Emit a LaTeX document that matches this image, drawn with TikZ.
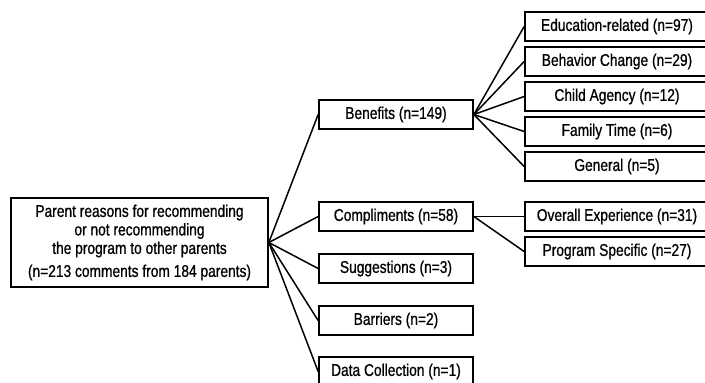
\documentclass[tikz,border=0pt]{standalone}
\usepackage{fontspec}
\setmainfont{Liberation Sans}[FakeStretch=0.81, FakeBold=0.8]
\usetikzlibrary{positioning}
\tikzset{
root box/.style = { rectangle, draw = black, fill = white, line width = 1.7pt, minimum width = 257pt, minimum height = 89pt, inner sep = 0pt, align = center },
theme box/.style = { rectangle, draw = black, fill = white, line width = 1.7pt, minimum width = 154pt, minimum height = 29pt, inner sep = 0pt },
subtheme box/.style = { rectangle, draw = black, fill = white, line width = 1.7pt, minimum width = 184pt, minimum height = 29pt, inner sep = 0pt },
link/.style = { draw = black, line width = 1.5pt },
}

\begin{document}
\begin{tikzpicture}[x = 1pt, y = -1pt, font = \fontsize{17}{18.5}\selectfont]
      \path[use as bounding box, clip] (0, 0) rectangle (705, 383);
      % root
      \node[root box] (root) at (139.5, 242.5) {Parent reasons for recommending\\or not recommending\\the program to other parents\\[4.5pt](n=213 comments from 184 parents)};
      % themes
      \node[theme box] (benefits) at (396, 114.5) {Benefits (n=149)};
      \node[theme box] (compliments) at (396, 216.5) {Compliments (n=58)};
      \node[theme box] (suggestions) at (396, 268.5) {Suggestions (n=3)};
      \node[theme box] (barriers) at (396, 320.5) {Barriers (n=2)};
      \node[theme box] (datacoll) at (396, 371.5) {Data Collection (n=1)};
      % sub-themes
      \node[subtheme box] (education) at (617, 26.5) {Education-related (n=97)};
      \node[subtheme box] (behavior) at (617, 61.5) {Behavior Change (n=29)};
      \node[subtheme box] (agency) at (617, 96.5) {Child Agency (n=12)};
      \node[subtheme box] (family) at (617, 131.5) {Family Time (n=6)};
      \node[subtheme box] (general) at (617, 166.5) {General (n=5)};
      \node[subtheme box] (overall) at (617, 216.5) {Overall Experience (n=31)};
      \node[subtheme box] (specific) at (617, 251.5) {Program Specific (n=27)};
      % connectors
      \draw[link] (root.east) -- (benefits.west);
      \draw[link] (root.east) -- (compliments.west);
      \draw[link] (root.east) -- (suggestions.west);
      \draw[link] (root.east) -- (barriers.west);
      \draw[link] (root.east) -- (datacoll.west);
      \draw[link] (benefits.east) -- (education.west);
      \draw[link] (benefits.east) -- (behavior.west);
      \draw[link] (benefits.east) -- (agency.west);
      \draw[link] (benefits.east) -- (family.west);
      \draw[link] (benefits.east) -- (general.west);
      \draw[link] (compliments.east) -- (overall.west);
      \draw[link] (compliments.east) -- (specific.west);
    \end{tikzpicture}
\end{document}
